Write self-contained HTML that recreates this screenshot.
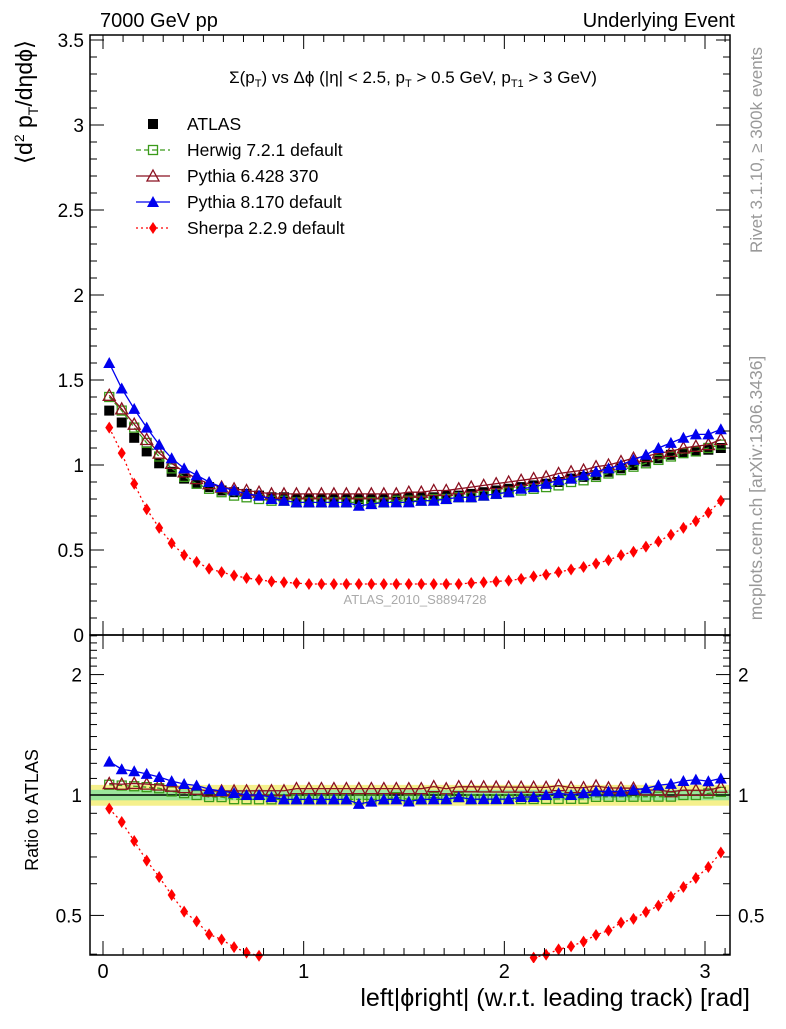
<!DOCTYPE html>
<html><head><meta charset="utf-8"><style>
body{margin:0;background:#fff;}
svg{font-family:"Liberation Sans",sans-serif;}
</style></head><body>
<svg id="c" width="786" height="1024" xmlns="http://www.w3.org/2000/svg">
<text x="100" y="27" font-size="20">7000 GeV pp</text>
<text x="735" y="27" font-size="20" text-anchor="end">Underlying Event</text>
<text x="413" y="83" font-size="17" text-anchor="middle">Σ(p<tspan font-size="11" dy="4">T</tspan><tspan dy="-4">) vs Δϕ (|η| &lt; 2.5, p</tspan><tspan font-size="11" dy="4">T</tspan><tspan dy="-4"> &gt; 0.5 GeV, p</tspan><tspan font-size="11" dy="4">T1</tspan><tspan dy="-4"> &gt; 3 GeV)</tspan></text>
<text transform="translate(32,40) rotate(-90)" font-size="23" text-anchor="end">⟨d<tspan font-size="14" dy="-8">2</tspan><tspan dy="8"> p</tspan><tspan font-size="14" dy="6">T</tspan><tspan dy="-6">/dηdϕ⟩</tspan></text>
<text transform="translate(38,810) rotate(-90)" font-size="18" text-anchor="middle">Ratio to ATLAS</text>
<text transform="translate(762,150) rotate(-90)" font-size="17" fill="#999" text-anchor="middle">Rivet 3.1.10, ≥ 300k events</text>
<text transform="translate(762,488) rotate(-90)" font-size="17.5" fill="#999" text-anchor="middle">mcplots.cern.ch [arXiv:1306.3436]</text>
<text x="415" y="604" font-size="13" fill="#aaa" text-anchor="middle">ATLAS_2010_S8894728</text>
<text x="750" y="1006" font-size="25" text-anchor="end">left|ϕright| (w.r.t. leading track) [rad]</text>
<g id="legend"></g>
<g id="main"></g>
<g id="ratio"></g>
</svg>
<script>
const atlas=[1.32,1.25,1.16,1.08,1.01,0.96,0.92,0.89,0.87,0.85,0.84,0.83,0.82,0.81,0.81,0.80,0.80,0.80,0.80,0.80,0.80,0.80,0.80,0.80,0.81,0.81,0.81,0.82,0.82,0.83,0.84,0.85,0.86,0.87,0.88,0.89,0.90,0.92,0.93,0.94,0.96,0.98,1.00,1.02,1.04,1.06,1.07,1.08,1.09,1.10];
const herwig=[1.40,1.32,1.22,1.13,1.05,0.98,0.93,0.89,0.86,0.84,0.82,0.81,0.80,0.79,0.79,0.78,0.78,0.78,0.78,0.78,0.78,0.78,0.78,0.79,0.79,0.79,0.80,0.80,0.81,0.81,0.82,0.83,0.84,0.85,0.86,0.87,0.88,0.90,0.91,0.93,0.95,0.97,0.99,1.01,1.03,1.05,1.07,1.08,1.10,1.12];
const py6=[1.41,1.33,1.24,1.15,1.07,1.01,0.96,0.92,0.89,0.87,0.86,0.85,0.84,0.83,0.83,0.83,0.83,0.83,0.83,0.83,0.83,0.83,0.83,0.83,0.84,0.84,0.85,0.85,0.86,0.87,0.88,0.89,0.90,0.91,0.92,0.93,0.95,0.96,0.97,0.99,1.00,1.02,1.04,1.05,1.07,1.08,1.10,1.11,1.12,1.15];
const py8=[1.60,1.45,1.33,1.22,1.12,1.04,0.98,0.94,0.90,0.87,0.85,0.83,0.82,0.80,0.79,0.78,0.78,0.78,0.78,0.78,0.76,0.77,0.78,0.78,0.78,0.79,0.79,0.80,0.81,0.81,0.82,0.83,0.84,0.86,0.87,0.89,0.91,0.92,0.94,0.96,0.98,1.00,1.03,1.06,1.10,1.13,1.16,1.18,1.18,1.21];
const sherpa=[1.22,1.07,0.89,0.74,0.63,0.54,0.47,0.43,0.39,0.37,0.35,0.335,0.325,0.315,0.31,0.305,0.30,0.30,0.30,0.30,0.30,0.30,0.30,0.30,0.30,0.30,0.30,0.30,0.30,0.306,0.31,0.315,0.32,0.33,0.345,0.355,0.37,0.385,0.40,0.42,0.44,0.47,0.49,0.52,0.55,0.59,0.63,0.67,0.72,0.79];
const binWidth=0.0622;
const yTicks=[0,0.5,1,1.5,2,2.5,3,3.5];
const xTicks=[0,1,2,3];
const rTicks=[0.5,1,2];
const ratioMin=0.392;

const NS="http://www.w3.org/2000/svg";
const X0=90,X1=730,Y0=35,Y1=635,R0=635,R1=955;
const xs=v=>103+v*200.67;
const ys=v=>635-v*170;
const rs=v=>795-Math.log10(v)*400;
function el(p,t,a){const e=document.createElementNS(NS,t);for(const k in a)e.setAttribute(k,a[k]);p.appendChild(e);return e;}
const svg=document.getElementById('c');
const main=document.getElementById('main'),ratio=document.getElementById('ratio');
const defs=el(svg,'defs',{});
const cp1=el(defs,'clipPath',{id:'cm'});el(cp1,'rect',{x:X0,y:Y0,width:X1-X0,height:Y1-Y0});
const cp2=el(defs,'clipPath',{id:'cr'});el(cp2,'rect',{x:X0,y:R0,width:X1-X0,height:R1-R0+8});
const xc=atlas.map((_,i)=>(i+0.5)*binWidth);

const band1=el(ratio,'rect',{x:X0+1,y:rs(1.06),width:X1-X0-2,height:rs(0.94)-rs(1.06),fill:'#f5f08c'});

const band2=el(ratio,'rect',{x:X0+1,y:rs(1.03),width:X1-X0-2,height:rs(0.97)-rs(1.03),fill:'#9be69b'});


function marker(g,type,x,y,col){
 if(type==='sq') return el(g,'rect',{x:x-5,y:y-5,width:10,height:10,fill:'#000'});
 if(type==='osq') return el(g,'rect',{x:x-4.5,y:y-4.5,width:9,height:9,fill:'none',stroke:col,'stroke-width':1.3});
 if(type==='otri') return el(g,'path',{d:`M${x},${y-6}L${x+6},${y+5}L${x-6},${y+5}Z`,fill:'none',stroke:col,'stroke-width':1.3});
 if(type==='tri') return el(g,'path',{d:`M${x},${y-6}L${x+6},${y+5}L${x-6},${y+5}Z`,fill:col});
 if(type==='dia') return el(g,'path',{d:`M${x},${y-6}L${x+4},${y}L${x},${y+6}L${x-4},${y}Z`,fill:col});
}
const series=[
 {d:herwig,n:'herwig',c:'#3a9a1a',m:'osq',dash:'5,3',lab:'Herwig 7.2.1 default'},
 {d:py6,n:'pythia6',c:'#8b1020',m:'otri',dash:'',lab:'Pythia 6.428 370'},
 {d:py8,n:'pythia8',c:'#0000ee',m:'tri',dash:'',lab:'Pythia 8.170 default'},
 {d:sherpa,n:'sherpa',c:'#ff0000',m:'dia',dash:'2,3',lab:'Sherpa 2.2.9 default'}];

const gm=el(main,'g',{'clip-path':'url(#cm)'});
const ga=el(gm,'g',{});

atlas.forEach((v,i)=>{const m=marker(ga,'sq',xs(xc[i]),ys(v));
 });
series.forEach(s=>{
 const g=el(gm,'g',{});
 
 el(g,'polyline',{points:s.d.map((v,i)=>xs(xc[i])+','+ys(v)).join(' '),fill:'none',stroke:s.c,'stroke-width':1.3,'stroke-dasharray':s.dash});
 s.d.forEach((v,i)=>{const m=marker(g,s.m,xs(xc[i]),ys(v),s.c);
  });
});
const gr=el(ratio,'g',{'clip-path':'url(#cr)'});
el(gr,'line',{x1:X0,x2:X1,y1:rs(1),y2:rs(1),stroke:'#000','stroke-width':1.5});
series.forEach(s=>{
 const g=el(gr,'g',{});
 
 let seg=[];const flush=()=>{if(seg.length>1)el(g,'polyline',{points:seg.join(' '),fill:'none',stroke:s.c,'stroke-width':1.3,'stroke-dasharray':s.dash});seg=[];};
 s.d.forEach((v,i)=>{const r=v/atlas[i];if(r<ratioMin){flush();return;}seg.push(xs(xc[i])+','+rs(r));});flush();
 s.d.forEach((v,i)=>{const r=v/atlas[i];if(r<ratioMin)return;const m=marker(g,s.m,xs(xc[i]),rs(r),s.c);
  });
});

function frame(p,y0,y1,name){const r=el(p,'rect',{x:X0,y:y0,width:X1-X0,height:y1-y0,fill:'none',stroke:'#000','stroke-width':1.5});
 }
frame(main,Y0,Y1,'main-plot-frame');frame(ratio,R0,R1,'ratio-plot-frame');
const tk={stroke:'#000','stroke-width':1};
for(let k=0;k<=35;k++){const y=ys(k/10);const L=k%5===0?14:7;
 el(main,'line',Object.assign({x1:X0,x2:X0+L,y1:y,y2:y},tk));el(main,'line',Object.assign({x1:X1,x2:X1-L,y1:y,y2:y},tk));}
yTicks.forEach(v=>{const t=el(main,'text',{x:X0-6,y:ys(v)+7,'font-size':19,'text-anchor':'end'});t.textContent=v;
 });
for(let k=4;k<=25;k++){const v=k/10;const y=rs(v);const L=(v===0.5||v===1||v===2)?14:7;
 el(ratio,'line',Object.assign({x1:X0,x2:X0+L,y1:y,y2:y},tk));el(ratio,'line',Object.assign({x1:X1,x2:X1-L,y1:y,y2:y},tk));}
rTicks.forEach(v=>{let t=el(ratio,'text',{x:X0-8,y:rs(v)+7,'font-size':19,'text-anchor':'end'});t.textContent=v;
 
 t=el(ratio,'text',{x:X1+8,y:rs(v)+7,'font-size':19});t.textContent=v;
 });
for(let k=0;k<=31;k++){const x=xs(k/10);const L=k%10===0?14:7;
 [[Y0,1],[Y1,-1],[R0,1],[R1,-1]].forEach(([y,d])=>el(svg,'line',Object.assign({x1:x,x2:x,y1:y,y2:y+d*L},tk)));}
xTicks.forEach(v=>{const t=el(svg,'text',{x:xs(v),y:978,'font-size':20,'text-anchor':'middle'});t.textContent=v;
 });

const lg=document.getElementById('legend');
const entries=[{m:'sq',c:'#000',dash:null,lab:'ATLAS',n:'atlas'}].concat(series.map(s=>({m:s.m,c:s.c,dash:s.dash,lab:s.lab,n:s.n})));
entries.forEach((e,i)=>{const y=124+i*26;
 const g=el(lg,'g',{});
 
 if(e.dash!==null)el(g,'line',{x1:136,x2:170,y1:y,y2:y,stroke:e.c,'stroke-width':1.3,'stroke-dasharray':e.dash});
 marker(g,e.m,153,y,e.c);
 const t=el(g,'text',{x:187,y:y+6,'font-size':17.5});t.textContent=e.lab;});
</script>
</body></html>
